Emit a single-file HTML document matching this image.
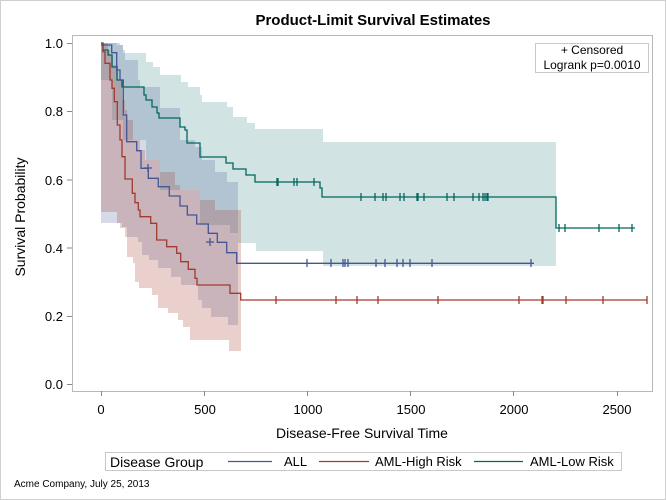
<!DOCTYPE html>
<html><head><meta charset="utf-8"><style>
body{margin:0;background:#fff}
svg{display:block;font-family:"Liberation Sans",sans-serif}
</style></head><body>
<svg width="666" height="500" viewBox="0 0 666 500">
<rect x="0.5" y="0.5" width="665" height="499" fill="#fff" stroke="#d0d0d0"/>
<text x="373" y="25" text-anchor="middle" font-size="15" font-weight="bold">Product-Limit Survival Estimates</text>
<rect x="72.5" y="35.5" width="580" height="356" fill="#fff" stroke="#b8b8b8"/>
<!-- bands -->
<path fill="#01665E" fill-opacity="0.18" d="M101,43 H117 V45 H123 V53 H146 V62 H153 V67 H160 V75 H181 V82 H188 V87 H200 V95 H202 V102 H227 V107 H233 V117 H247 V123 H255 V129 H323 V142 H556 V266 H323 V251 H256 V243 H238 V233 H230 V225 H200 V190 H160 V160 H146 V140 H123 V120 H112 V80 H101 Z"/>
<path fill="#445694" fill-opacity="0.22" d="M101,43 H120 V45 H123 V50 H125 V60 H138 V80 H140 V87 H160 V108 H180 V125 V140 H195 V147 H202 V160 H215 V172 H227 V182 H238 V325 H228 V317 H211 V308 H202 V300 H198 V285 H181 V277 H171 V268 H158 V260 H149 V255 H142 V242 H138 V237 H127 V227 H122 V223 H101 Z"/>
<path fill="#A23A2E" fill-opacity="0.24" d="M101,43 H108 V50 H110 V55 H113 V65 H118 V80 H122 V100 H125 V110 H127 V120 H133 V140 H140 V150 H145 V160 H160 V172 H175 V185 H180 V190 H200 V200 H215 V210 H241 V351 H229 V340 H190 V327 H183 V320 H178 V313 H168 V308 H158 V295 H152 V288 H139 V282 H135 V263 H133 V257 H127 V237 H125 V228 H120 V223 H117 V212 H101 Z"/>
<!-- curves -->
<g fill="none" stroke-width="1.3">
<path stroke="#01665E" d="M101,43 H103 V50 H108 V55 H112 V67 H117 V80 H122 V87 H144 V95 H146 V100 H152 V107 H157 V113 H159 V118 H180 V127 H185 V130 H187 V143 H200 V157 H226 V163 H233 V169 H246 V175 H255 V182 H320 V188 H322 V197 H556 V228 H635"/>
<path stroke="#445694" d="M101,45 H111.7 V52.7 H116.7 V70 H120 V80 H123.3 V115 H126.7 V141.7 H136.7 V150.7 H141 V168.3 H148.3 V178.3 H158.3 V186.7 H169.3 V196 H180 V206 H187.3 V215 H196.7 V224 H208.3 V233.3 H217.3 V242.3 H226.7 V252.7 H236.7 V263.3 H534"/>
<path stroke="#A23A2E" d="M101,45 H103 V51.7 H105 V63.3 H110 V80 H112 V88.3 H114.3 V101.7 H117.3 V125 H120 V140 H122 V156.7 H125 V179 H132.3 V193.3 H135 V202.7 H138.3 V210 H140 V216.7 H150.7 V223.3 H156.7 V240 H166.7 V246.7 H176.7 V253.3 H180.7 V261.7 H188.3 V269.3 H195 V278.3 H197 V285 H230 V293.3 H240.7 V300 H647"/>
</g>
<!-- censor ticks -->
<g stroke="#01665E" stroke-width="1.3" fill="none">
<path d="M277,178v8M278,178v8M294,178v8M297,178v8M314,178v8M361,193v8M375,193v8M383,193v8M386,193v8M400,193v8M404,193v8M417,193v8M418,193v8M424,193v8M447,193v8M454,193v8M473,193v8M479,193v8M483,193v8M485,193v8M487,193v8M488,193v8M559,224v8M565,224v8M599,224v8M619,224v8M632,224v8"/>
</g>
<g stroke="#445694" stroke-width="1.3" fill="none">
<path d="M148,164v8M144,168h8M210,238v8M206,242h8M307,259v8M331,259v8M343,259v8M345,259v8M348,259v8M376,259v8M385,259v8M397,259v8M403,259v8M410,259v8M432,259v8M531,259v8"/>
</g>
<g stroke="#A23A2E" stroke-width="1.3" fill="none">
<path d="M276,296v8M336,296v8M357,296v8M378,296v8M438,296v8M519,296v8M542,296v8M543,296v8M566,296v8M603,296v8M647,296v8"/>
</g>
<!-- inset -->
<rect x="535.5" y="43.5" width="113" height="29" fill="#fff" stroke="#c8c8c8"/>
<text x="592" y="54" text-anchor="middle" font-size="12">+ Censored</text>
<text x="592" y="69" text-anchor="middle" font-size="12">Logrank p=0.0010</text>
<!-- y axis -->
<g stroke="#888" stroke-width="1">
<path d="M67,43.5h5M67,111.5h5M67,180h5M67,248h5M67,316.5h5M67,384.5h5"/>
<path d="M101.5,391v5M204.5,391v5M307.5,391v5M410.5,391v5M513.5,391v5M617.5,391v5"/>
</g>
<g font-size="13" text-anchor="end">
<text x="63" y="48">1.0</text><text x="63" y="116">0.8</text><text x="63" y="185">0.6</text><text x="63" y="253">0.4</text><text x="63" y="321">0.2</text><text x="63" y="389">0.0</text>
</g>
<g font-size="13" text-anchor="middle">
<text x="101" y="414">0</text><text x="205" y="414">500</text><text x="308" y="414">1000</text><text x="411" y="414">1500</text><text x="514" y="414">2000</text><text x="617" y="414">2500</text>
</g>
<text x="362" y="438" text-anchor="middle" font-size="14">Disease-Free Survival Time</text>
<text transform="translate(25,217) rotate(-90)" text-anchor="middle" font-size="14">Survival Probability</text>
<!-- legend -->
<rect x="105.5" y="452.5" width="516" height="18" fill="#fff" stroke="#c8c8c8"/>
<text x="110" y="467" font-size="14">Disease Group</text>
<path d="M228,461.5h44" stroke="#445694" stroke-width="1.3"/>
<text x="284" y="466" font-size="13">ALL</text>
<path d="M319,461.5h50" stroke="#A23A2E" stroke-width="1.3"/>
<text x="375" y="466" font-size="13">AML-High Risk</text>
<path d="M474,461.5h49" stroke="#01665E" stroke-width="1.3"/>
<text x="530" y="466" font-size="13">AML-Low Risk</text>
<text x="14" y="487" font-size="10">Acme Company, July 25, 2013</text>
</svg>
</body></html>
